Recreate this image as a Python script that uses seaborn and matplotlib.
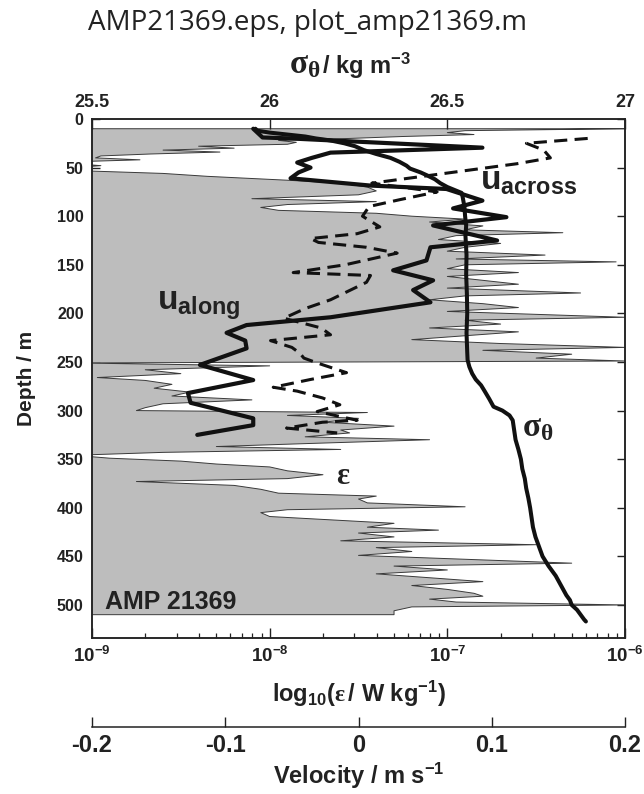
import numpy as np
import pandas as pd
import matplotlib
matplotlib.use("Agg")
import matplotlib.pyplot as plt
import seaborn as sns
from matplotlib.ticker import FixedLocator, FixedFormatter, LogLocator, NullFormatter
from matplotlib.offsetbox import TextArea, HPacker, AnchoredOffsetbox

# ---------------- data ----------------
sig_depth = [10, 12, 14, 16, 18, 20, 22, 25, 28, 32, 36, 40, 44, 48, 51, 55, 58, 62, 66, 70,
             73, 76, 80, 84, 90, 100, 110, 120, 140, 160, 180, 200, 220, 240, 248, 255, 262,
             268, 274, 280, 288, 296, 300, 305, 310, 320, 330, 340, 350, 360, 370, 380, 390,
             400, 410, 420, 430, 440, 450, 460, 470, 480, 490, 495, 500, 505, 510, 515, 517]
sig_theta = [25.96, 25.965, 26.00, 26.05, 26.10, 26.13, 26.17, 26.21, 26.24, 26.265, 26.30,
             26.34, 26.365, 26.385, 26.395, 26.425, 26.443, 26.465, 26.48, 26.50, 26.52, 26.54,
             26.543, 26.545, 26.548, 26.55, 26.553, 26.551, 26.554, 26.553, 26.555, 26.556,
             26.554, 26.556, 26.557, 26.562, 26.57, 26.58, 26.595, 26.605, 26.618, 26.63,
             26.655, 26.675, 26.684, 26.688, 26.692, 26.70, 26.707, 26.711, 26.718, 26.722,
             26.728, 26.733, 26.737, 26.741, 26.748, 26.758, 26.768, 26.785, 26.805, 26.82,
             26.835, 26.845, 26.85, 26.865, 26.875, 26.885, 26.89]

ua_depth = [10, 19, 20, 22, 26, 29.5, 34.6, 40, 44.8, 50, 55, 61, 68.5, 72, 84, 92, 101,
            109.5, 125, 132, 145.5, 155.7, 166, 176, 188.6, 204, 212, 220, 228, 236, 253,
            268.6, 282, 292, 308, 315, 325]
u_along = [-0.079, -0.072, -0.051, -0.021, 0.04, 0.093, -0.021, -0.035, -0.046, -0.036,
           -0.045, -0.051, 0.009, 0.066, 0.093, 0.071, 0.111, 0.056, 0.104, 0.054, 0.051,
           0.026, 0.056, 0.041, 0.054, -0.021, -0.084, -0.099, -0.085, -0.084, -0.119,
           -0.079, -0.128, -0.126, -0.079, -0.079, -0.121]

uc_depth = [20, 25, 32, 40, 46, 55, 66, 75, 83, 90, 100, 111, 118, 123, 127, 132, 138, 150,
            158, 161, 168, 178, 186, 195, 205, 215, 222, 228, 235, 241, 246, 251, 261, 268,
            276, 280, 287, 294, 301, 310, 312, 318, 323]
u_across = [0.172, 0.126, 0.139, 0.144, 0.119, 0.070, 0.010, 0.059, 0.031, 0.008, 0.003,
            0.016, -0.001, -0.036, -0.030, 0.006, 0.029, -0.010, -0.049, 0.009, 0.006, -0.009,
            -0.021, -0.040, -0.056, -0.028, -0.021, -0.066, -0.050, -0.044, -0.041, -0.031,
            -0.009, -0.036, -0.064, -0.046, -0.027, -0.014, -0.031, -0.001, -0.027, -0.054,
            -0.016]

eps_depth = [10, 11, 12, 14, 16, 18, 20, 22, 24, 26, 28, 30, 32, 34, 36, 38, 40, 42, 44, 46,
             48, 50, 53, 56, 59, 63, 66, 70, 74, 78, 82, 85, 88, 91, 94, 97, 100, 103, 106,
             110, 114, 117, 120, 124, 128, 132, 136, 140, 144, 147, 150, 154, 158, 162, 166,
             170, 174, 179, 182, 186, 190, 194, 198, 201, 204, 207, 211, 215, 219, 223, 227,
             231, 235, 238, 242, 246, 249, 251, 254, 258, 262, 266, 269, 273, 277, 281, 285,
             289, 293, 297, 300, 302, 305, 308, 312, 316, 320, 323, 327, 330, 334, 337, 340,
             343, 346, 349, 352, 355, 358, 362, 366, 370, 373, 377, 381, 385, 388, 391, 395,
             399, 402, 405, 409, 413, 416, 420, 423, 426, 430, 434, 438, 441, 445, 449, 453,
             457, 460, 464, 468, 472, 476, 480, 484, 488, 491, 494, 497, 500, 502, 506, 510]
log_eps = [-6.0, -6.45, -6.9, -7.0, -6.85, -7.25, -7.55, -7.95, -7.85, -7.9, -8.4, -8.2, -8.6,
           -8.28, -8.67, -8.95, -8.98, -8.73, -9.1, -9.1, -8.95, -9.1, -9.1, -8.6, -8.35, -7.9,
           -7.6, -7.45, -7.4, -7.5, -8.1, -7.4, -7.9, -8.05, -7.95, -7.4, -7.2, -6.9, -7.1,
           -6.8, -6.9, -6.35, -6.95, -7.05, -6.7, -6.9, -7.0, -6.45, -6.95, -6.05, -6.9, -7.0,
           -6.6, -7.0, -6.8, -6.6, -7.0, -6.25, -6.9, -7.1, -6.8, -6.6, -7.0, -6.5, -6.0, -6.9,
           -6.7, -7.1, -6.6, -6.9, -7.2, -6.7, -6.0, -6.8, -6.3, -6.5, -6.0, -9.1, -8.0, -8.7,
           -8.5, -8.97, -8.7, -8.55, -8.65, -8.45, -8.55, -8.1, -8.6, -8.7, -8.75, -7.45, -7.9,
           -7.5, -7.7, -7.3, -7.6, -7.55, -7.8, -7.1, -7.8, -8.3, -7.6, -8.6, -9.1, -8.9, -8.5,
           -8.3, -8.0, -7.9, -7.7, -7.9, -8.75, -8.2, -8.05, -7.95, -7.4, -7.5, -7.45, -6.9,
           -7.9, -8.05, -8.0, -7.6, -7.3, -7.45, -7.05, -7.5, -7.3, -7.6, -6.5, -7.4, -7.2,
           -7.5, -6.9, -6.3, -7.3, -7.0, -7.4, -7.1, -6.8, -7.2, -7.0, -6.85, -6.8, -7.1,
           -6.95, -6.0, -7.2, -7.3, -7.3]

depth_ticks = [0, 50, 100, 150, 200, 250, 300, 350, 400, 450, 500]
sigma_ticks = [25.5, 26, 26.5, 27]
sigma_ticklabels = ["25.5", "26", "26.5", "27"]
eps_ticks = [1e-9, 1e-8, 1e-7, 1e-6]
eps_ticklabels = [r"$\mathrm{10^{-9}}$", r"$\mathrm{10^{-8}}$", r"$\mathrm{10^{-7}}$", r"$\mathrm{10^{-6}}$"]
vel_ticks = [-0.2, -0.1, 0, 0.1, 0.2]
vel_ticklabels = ["-0.2", "-0.1", "0", "0.1", "0.2"]

# ---------------- style ----------------
sns.set_theme(style="ticks")
plt.rcParams.update({
    "font.family": ["Liberation Sans", "DejaVu Sans"],
    "font.weight": "bold",
    "mathtext.fontset": "custom",
    "mathtext.rm": "Liberation Sans:bold",
    "mathtext.bf": "Liberation Sans:bold",
    "mathtext.sf": "Liberation Sans:bold",
    "mathtext.it": "Liberation Serif",
    "axes.linewidth": 1.1,
    "axes.edgecolor": "#222222",
    "xtick.color": "#222222",
    "ytick.color": "#222222",
    "text.color": "#222222",
    "axes.labelcolor": "#222222",
})

fig = plt.figure(figsize=(6.44, 7.94), dpi=100)
L, B, W, H = 92 / 644, 1 - 638 / 794, 533 / 644, 519 / 794
ax = fig.add_axes([L, B, W, H])
ax.set_facecolor("white")

# epsilon fill
eps = 10 ** np.array(log_eps)
ax.fill_betweenx(eps_depth, 1e-10, eps, facecolor="#bdbdbd", edgecolor="#3a3a3a",
                 linewidth=0.7, zorder=1)
ax.set_xscale("log")
ax.set_xlim(1e-9, 1e-6)
ax.set_ylim(534, 0)
ax.xaxis.set_major_locator(FixedLocator(eps_ticks))
ax.xaxis.set_major_formatter(FixedFormatter(eps_ticklabels))
ax.xaxis.set_minor_locator(LogLocator(base=10, subs=range(2, 10)))
ax.xaxis.set_minor_formatter(NullFormatter())
ax.yaxis.set_major_locator(FixedLocator(depth_ticks))
ax.yaxis.set_major_formatter(FixedFormatter([str(t) for t in depth_ticks]))
ax.tick_params(axis="x", which="major", direction="in", length=7, width=1.0,
               labelsize=13.5, pad=6, top=False)
ax.tick_params(axis="x", which="minor", direction="in", length=3.5, width=0.9, top=False)
ax.tick_params(axis="y", which="major", direction="in", length=6, width=1.0,
               labelsize=11.5, right=True, left=True, labelright=False, pad=6)
ax.set_xlabel(r"$\mathrm{log_{10}(}\varepsilon\mathrm{\,/\ W\ kg^{-1})}$", fontsize=17, labelpad=9)
ax.set_ylabel("Depth / m", fontsize=15, fontweight="bold", labelpad=15)

# velocity overlay axes
ax_u = ax.twiny()
df_ua = pd.DataFrame({"depth": ua_depth, "u": u_along})
df_uc = pd.DataFrame({"depth": uc_depth, "u": u_across})
sns.lineplot(data=df_ua, x="u", y="depth", sort=False, estimator=None, color="#111111",
             lw=3.0, ax=ax_u, legend=False, zorder=4)
sns.lineplot(data=df_uc, x="u", y="depth", sort=False, estimator=None, color="#111111",
             lw=2.2, linestyle=(0, (4.3, 2.4)), ax=ax_u, legend=False, zorder=4)
ax_u.set_xlim(-0.2, 0.2)
ax_u.xaxis.set_visible(False)
for s in ax_u.spines.values():
    s.set_visible(False)

# sigma-theta axes (top)
ax_s = ax.twiny()
df_s = pd.DataFrame({"depth": sig_depth, "sigma": sig_theta})
sns.lineplot(data=df_s, x="sigma", y="depth", sort=False, estimator=None, color="#111111",
             lw=2.9, ax=ax_s, legend=False, zorder=5)
ax_s.set_xlim(25.5, 27)
ax_s.xaxis.set_major_locator(FixedLocator(sigma_ticks))
ax_s.xaxis.set_major_formatter(FixedFormatter(sigma_ticklabels))
ax_s.tick_params(axis="x", which="major", direction="in", length=7, width=1.0,
                 labelsize=13, pad=5.5, top=True, bottom=False)
ax_s.set_xlabel("")
ax.set_ylim(534, 0)

# top axis label: large serif sigma + bold sans units
ta1 = TextArea(r"$\sigma_\theta$", textprops=dict(fontsize=24, color="#222222"))
ta2 = TextArea(r"$\mathrm{/\ kg\ m^{-3}}$", textprops=dict(fontsize=17, color="#222222"))
box = HPacker(children=[ta1, ta2], align="baseline", pad=0, sep=1)
anch = AnchoredOffsetbox(loc="center", child=box, pad=0, borderpad=0, frameon=False,
                         bbox_to_anchor=(350 / 644, 1 - 65 / 794),
                         bbox_transform=fig.transFigure)
fig.add_artist(anch)

# annotations
ax.text((157 - 92) / 533, 1 - (310 - 119) / 519, r"$\mathrm{u_{along}}$", transform=ax.transAxes,
        fontsize=24, ha="left", va="baseline", zorder=6)
ax.text((480 - 92) / 533, 1 - (190 - 119) / 519, r"$\mathrm{u_{across}}$", transform=ax.transAxes,
        fontsize=24, ha="left", va="baseline", zorder=6)
ax.text((522 - 92) / 533, 1 - (436 - 119) / 519, r"$\sigma_\theta$", transform=ax.transAxes,
        fontsize=24, ha="left", va="baseline", zorder=6)
ax.text((336 - 92) / 533, 1 - (484 - 119) / 519, r"$\varepsilon$", transform=ax.transAxes,
        fontsize=22, ha="left", va="baseline", zorder=6)
ax.text((105 - 92) / 533, 1 - (602 - 119) / 519, "AMP 21369", transform=ax.transAxes,
        fontsize=18, fontweight="bold", ha="left", va="center", zorder=6)

# velocity scale axis below
ax_v = fig.add_axes([L, 1 - 727 / 794, W, 0.0001])
ax_v.set_facecolor("none")
ax_v.set_xlim(-0.2, 0.2)
ax_v.set_ylim(0, 1)
for k in ["left", "right", "top"]:
    ax_v.spines[k].set_visible(False)
ax_v.set_yticks([])
ax_v.xaxis.set_major_locator(FixedLocator(vel_ticks))
ax_v.xaxis.set_major_formatter(FixedFormatter(vel_ticklabels))
ax_v.tick_params(axis="x", direction="in", length=7, width=1.0, labelsize=17, pad=5)
ax_v.set_xlabel(r"$\mathrm{Velocity\ /\ m\ s^{-1}}$", fontsize=17, labelpad=3)

fig.text(0.478, 1 - 23 / 794, "AMP21369.eps, plot_amp21369.m", fontfamily="Open Sans",
         fontweight="normal", fontsize=20, ha="center", va="center")

fig.savefig("out.png", dpi=100)
